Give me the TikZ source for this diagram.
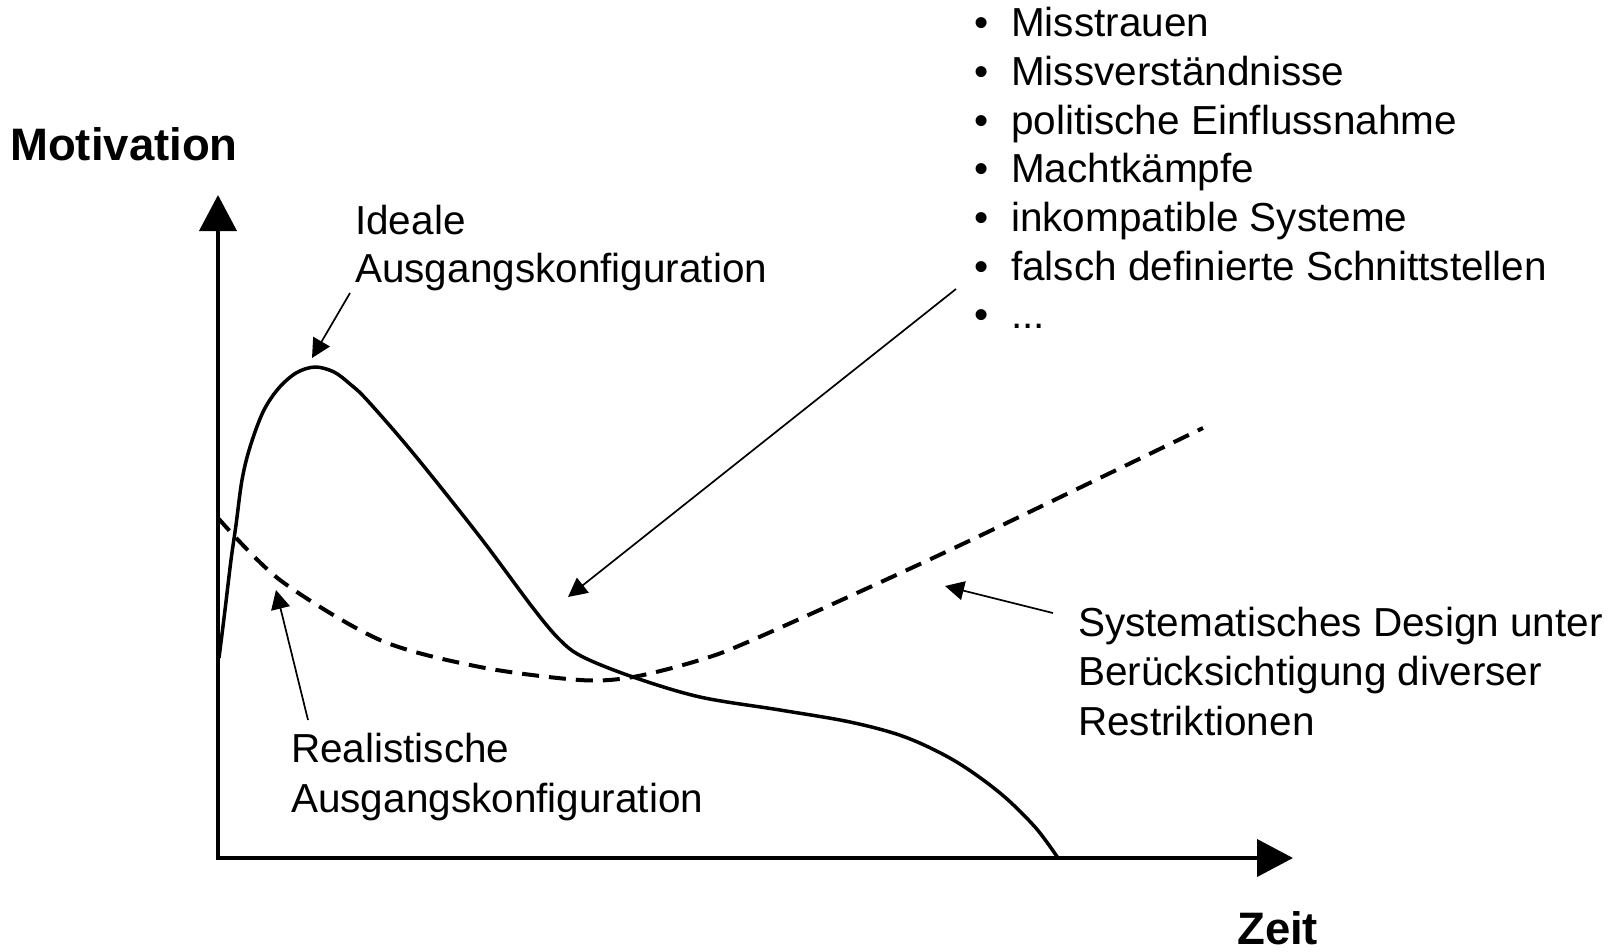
\documentclass[tikz,border=0pt]{standalone}
\usepackage{fontspec}
\setmainfont{Liberation Sans}
\usetikzlibrary{arrows.meta}

\tikzset{
  axisline/.style={line width=4pt, line join=miter,
    {Triangle[length=36pt,width=37pt]}-{Triangle[length=36pt,width=37pt]}},
  idealcurve/.style={line width=3.5pt, line join=round},
  designcurve/.style={line width=4pt, dash pattern=on 17pt off 10pt},
  pointer/.style={line width=1.7pt, -{Triangle[length=19pt,width=19pt]}},
  lbl/.style={anchor=base west, inner sep=0pt, font=\fontsize{40.5}{49}\selectfont},
  axlbl/.style={anchor=base west, inner sep=0pt, font=\fontsize{45.5}{54}\selectfont\bfseries},
  bullet/.style={anchor=base, inner sep=0pt, font=\fontsize{40.5}{49}\selectfont},
}

\begin{document}
\begin{tikzpicture}[x=1pt, y=-1pt]
  \useasboundingbox (0,0) rectangle (1620,951);

  % axes
  \coordinate (O) at (218,858);
  \coordinate (ytop) at (218,195);
  \coordinate (xend) at (1293,858);
  \draw[axisline] (ytop) -- (O) -- (xend);

  \node[axlbl] (motivation) at (10,160) {Motivation};
  \node[axlbl] (zeit) at (1237,944) {Zeit};

  % motivation without systematic design
  \draw[idealcurve] plot[smooth, tension=0.55] coordinates {
    (219,658) (225,610) (231,560) (236,525) (242,480) (250,447) (263,412)
    (278,389) (296,373) (315,367) (334,372) (350,384) (367,400) (413,453)
    (480,537) (533,608) (560,640) (583,657) (633,677) (700,697) (780,710)
    (850,722) (905,737) (955,761) (1000,793) (1035,827) (1058,858)};

  % motivation with systematic design
  \draw[designcurve] plot[smooth, tension=0.5] coordinates {
    (218,518) (280,580) (380,640) (480,667) (580,680) (633,677) (700,660)
    (757,638) (950,550) (1203,428)};

  % labels
  \node[lbl] (ideal1) at (355,234) {Ideale};
  \node[lbl] (ideal2) at (355,282.5) {Ausgangskonfiguration};
  \node[lbl] (real1) at (291,762.5) {Realistische};
  \node[lbl] (real2) at (291,812) {Ausgangskonfiguration};
  \node[lbl] (sys1) at (1078,636) {Systematisches Design unter};
  \node[lbl] (sys2) at (1078,685.5) {Berücksichtigung diverser};
  \node[lbl] (sys3) at (1078,735) {Restriktionen};

  % list of disturbances
  \foreach \i in {0,...,6}{
    \node[bullet] (b\i) at (981.5,36.7+48.7*\i) {\textbullet};
  }
  \node[lbl] (item0) at (1011,36.7)  {Misstrauen};
  \node[lbl] (item1) at (1011,85.4)  {Missverständnisse};
  \node[lbl] (item2) at (1011,134.1) {politische Einflussnahme};
  \node[lbl] (item3) at (1011,182.8) {Machtkämpfe};
  \node[lbl] (item4) at (1011,231.5) {inkompatible Systeme};
  \node[lbl] (item5) at (1011,280.2) {falsch definierte Schnittstellen};
  \node[lbl] (item6) at (1011,328.9) {...};

  % pointers
  \coordinate (idealTail) at (350,293);
  \coordinate (idealTip) at (312,358);
  \coordinate (realTail) at (308,720);
  \coordinate (realTip) at (276,590);
  \coordinate (listTail) at (956,289);
  \coordinate (listTip) at (568,597);
  \coordinate (sysTail) at (1053,613);
  \coordinate (sysTip) at (945,586);
  \draw[pointer] (idealTail) -- (idealTip);
  \draw[pointer] (realTail) -- (realTip);
  \draw[pointer] (listTail) -- (listTip);
  \draw[pointer] (sysTail) -- (sysTip);
\end{tikzpicture}
\end{document}
